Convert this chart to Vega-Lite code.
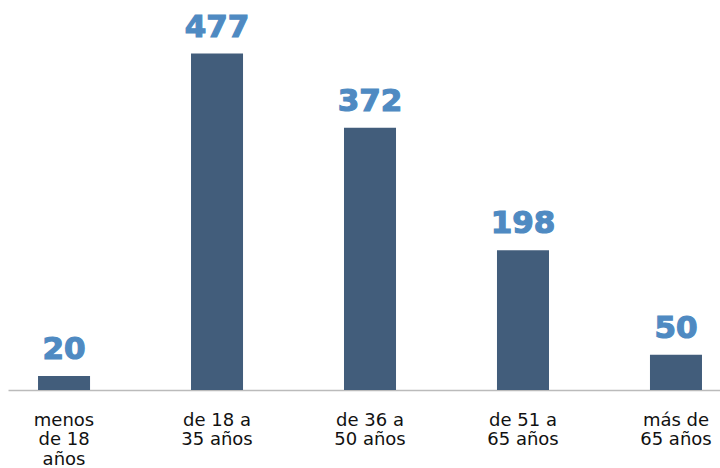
{
  "$schema": "https://vega.github.io/schema/vega-lite/v6.json",
  "autosize": "none",
  "padding": {"left": 8, "top": 0, "right": 0, "bottom": 78},
  "width": 712,
  "height": 390,
  "background": "white",
  "config": {"view": {"stroke": null}},
  "data": {
    "values": [
      {"grupo": "menos\nde 18\naños", "personas": 20},
      {"grupo": "de 18 a\n35 años", "personas": 477},
      {"grupo": "de 36 a\n50 años", "personas": 372},
      {"grupo": "de 51 a\n65 años", "personas": 198},
      {"grupo": "más de\n65 años", "personas": 50}
    ]
  },
  "encoding": {
    "x": {
      "field": "grupo",
      "type": "nominal",
      "sort": null,
      "scale": {"paddingInner": 0.66, "paddingOuter": 0.157, "align": 0.625},
      "axis": {
        "title": null,
        "labelAngle": 0,
        "ticks": false,
        "labelPadding": 21,
        "labelFont": "DejaVu Sans",
        "labelFontSize": 18,
        "labelColor": "#111111",
        "labelLineHeight": 19.5,
        "labelBaseline": "top",
        "labelExpr": "split(datum.label, '\\n')",
        "domainColor": "#BBBBBB",
        "domainWidth": 1.5
      }
    },
    "y": {
      "field": "personas",
      "type": "quantitative",
      "scale": {"domain": [0, 553], "nice": false},
      "axis": null
    }
  },
  "layer": [
    {"mark": {"type": "bar", "color": "#425D7B"}},
    {
      "mark": {
        "type": "text",
        "baseline": "alphabetic",
        "dy": -17,
        "font": "DejaVu Sans",
        "fontWeight": "bold",
        "fontSize": 31,
        "color": "#4F8AC2",
        "stroke": "#4F8AC2",
        "strokeWidth": 1.2
      },
      "encoding": {"text": {"field": "personas", "type": "quantitative"}}
    }
  ]
}
